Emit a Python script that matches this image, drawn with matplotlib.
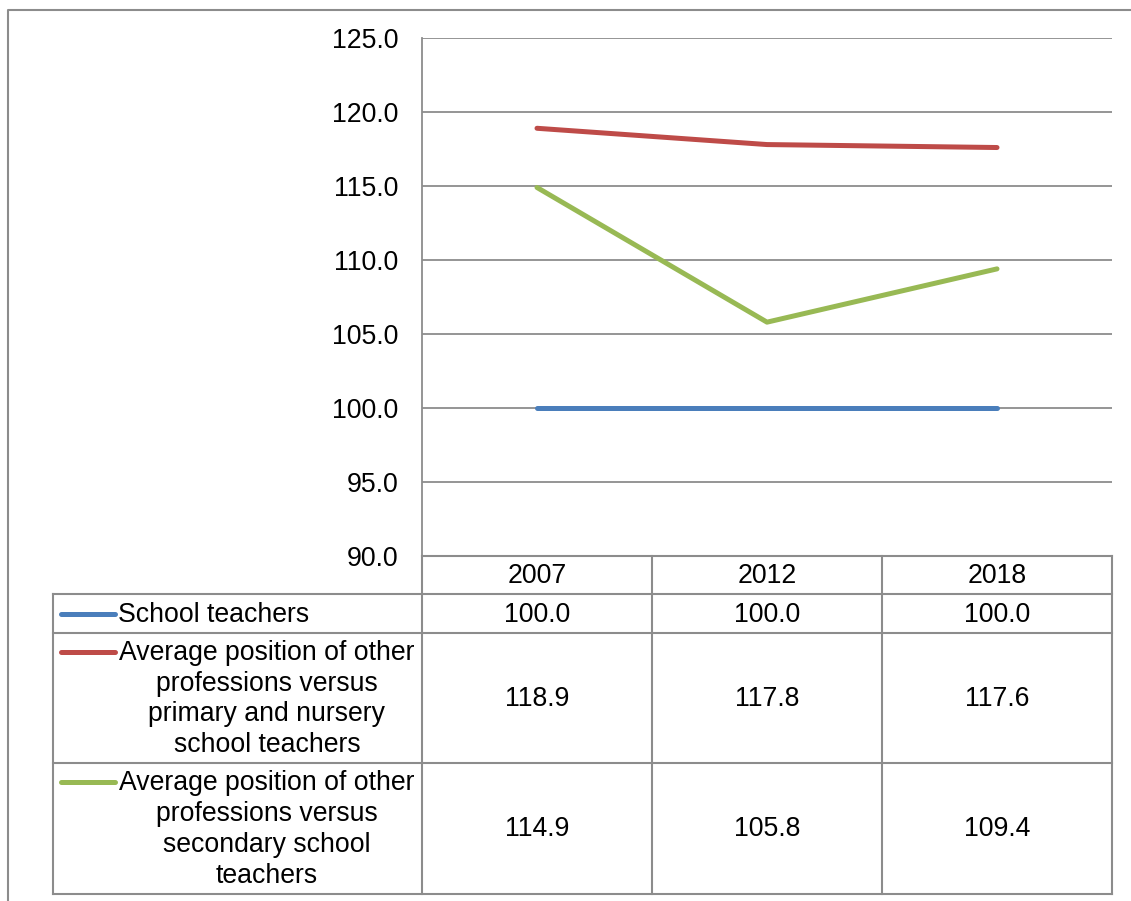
import matplotlib
matplotlib.use("Agg")
import matplotlib.pyplot as plt

plt.rcParams['font.family'] = ['Liberation Sans', 'DejaVu Sans']

years = ['2007', '2012', '2018']
series_names = [
    'School teachers',
    'Average position of other\nprofessions versus\nprimary and nursery\nschool teachers',
    'Average position of other\nprofessions versus\nsecondary school\nteachers',
]
school_teachers = [100.0, 100.0, 100.0]
primary_nursery = [118.9, 117.8, 117.6]
secondary = [114.9, 105.8, 109.4]
series_values = [school_teachers, primary_nursery, secondary]
colors = ['#4A7EBB', '#BE4B48', '#98B954']

W, H = 1131, 901
grid_c = '#8C8C8C'
fs = 19.2

fig = plt.figure(figsize=(W / 100, H / 100), dpi=100)

# plot area
x0, x1, ytop, ybot = 422, 1112, 38, 556
ax = fig.add_axes([x0 / W, 1 - ybot / H, (x1 - x0) / W, (ybot - ytop) / H])
for vals, c in zip(series_values, colors):
    ax.plot(range(len(years)), vals, color=c, lw=3.6, solid_capstyle='round', zorder=3)
ax.set_xlim(-0.5, len(years) - 0.5)
ax.set_ylim(90, 125)
ax.set_yticks(range(90, 126, 5))
ax.set_yticklabels([f'{v:.1f}' for v in range(90, 126, 5)], fontsize=fs)
ax.set_xticks([])
ax.yaxis.grid(True, color=grid_c, lw=1.3)
ax.tick_params(axis='y', length=0, pad=17)
for s in ['top', 'right', 'bottom']:
    ax.spines[s].set_visible(False)
ax.spines['left'].set_color(grid_c)
ax.spines['left'].set_linewidth(1.3)

# overlay in pixel coords for frame + data table
ov = fig.add_axes([0, 0, 1, 1], facecolor='none')
ov.set_xlim(0, W)
ov.set_ylim(H, 0)
ov.axis('off')

# outer chart frame
ov.plot([8, 8, W], [H, 9.5, 9.5], color=grid_c, lw=1.5, clip_on=False)

# table geometry
col_w = (x1 - x0) / len(years)
col_edges = [x0 + i * col_w for i in range(len(years) + 1)]
row_edges = [556, 594, 633, 763, 894]
tleft = 53

lc = dict(color=grid_c, lw=1.5)
ov.plot([x0, x1], [row_edges[0], row_edges[0]], **lc)
for y in row_edges[1:]:
    ov.plot([tleft, x1], [y, y], **lc)
ov.plot([tleft, tleft], [row_edges[1], row_edges[-1]], **lc)
for x in col_edges:
    ov.plot([x, x], [row_edges[0], row_edges[-1]], **lc)

# header
for i, yr in enumerate(years):
    cx = (col_edges[i] + col_edges[i + 1]) / 2
    ov.text(cx, (row_edges[0] + row_edges[1]) / 2 + 1, yr, ha='center', va='center', fontsize=fs)

# rows
for r, (name, vals, c) in enumerate(zip(series_names, series_values, colors)):
    ya, yb = row_edges[r + 1], row_edges[r + 2]
    cy = (ya + yb) / 2
    nlines = name.count('\n') + 1
    if nlines == 1:
        ov.plot([61, 115], [cy, cy], color=c, lw=3.6, solid_capstyle='round')
        ov.text(118, cy + 1, name, ha='left', va='center', fontsize=fs)
    else:
        key_y = ya + 19
        ov.plot([61, 115], [key_y, key_y], color=c, lw=3.6, solid_capstyle='round')
        ov.text(267, cy + 1, name, ha='center', va='center', fontsize=fs,
                multialignment='center', linespacing=1.24)
    for i, v in enumerate(vals):
        cx = (col_edges[i] + col_edges[i + 1]) / 2
        ov.text(cx, cy + 1, f'{v:.1f}', ha='center', va='center', fontsize=fs)

fig.savefig('out.png', dpi=100)
